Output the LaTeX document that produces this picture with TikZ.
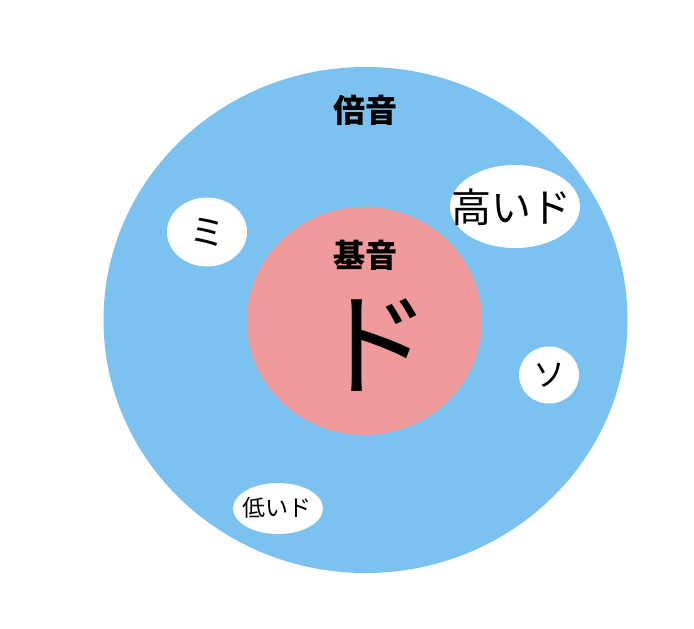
\documentclass[tikz,border=0pt]{standalone}
\usepackage{fontspec}
\setmainfont{Noto Sans CJK JP}
\usetikzlibrary{shapes.geometric}

\definecolor{overblue}{RGB}{124,194,241}
\definecolor{basepink}{RGB}{239,154,155}

\tikzset{
  blob/.style={ellipse, fill=white, inner sep=0pt},
  fs/.style={font=\fontsize{#1}{#1}\selectfont}
}

\begin{document}
\begin{tikzpicture}[x=1pt,y=-1pt]
      % \draw[help lines](0,0) grid (694,629);

      % Bounding box
      \path (0,0) rectangle (694,629);

      \draw (365.5,320) node (overtone)[ellipse, fill=overblue, inner sep=0pt, minimum width=524pt, minimum height=506pt] {};
      \draw (364.5,321) node (fundamental)[ellipse, fill=basepink, inner sep=0pt, minimum width=235pt, minimum height=228pt] {};

      \draw (207,232) node (mi)[blob, minimum width=80pt, minimum height=69pt] {};
      \draw (515,206.5) node (highdo)[blob, minimum width=130pt, minimum height=83pt] {};
      \draw (549,375) node (so)[blob, minimum width=60pt, minimum height=57pt] {};
      \draw (278,508.5) node (lowdo)[blob, minimum width=90pt, minimum height=51pt] {};

      \draw (365,110) node (overlabel)[fs=32] {\bfseries 倍音};
      \draw (365,255) node (baselabel)[fs=32] {\bfseries 基音};
      \draw (374,345) node (do)[fs=114] {ド};

      \draw (mi) node (mitext)[fs=36] {ミ};
      \draw (511,207) node (highdotext)[fs=40] {高いド};
      \draw (549,375) node (sotext)[fs=32] {ソ};
      \draw (277,508) node (lowdotext)[fs=23] {低いド};
\end{tikzpicture}
\end{document}
